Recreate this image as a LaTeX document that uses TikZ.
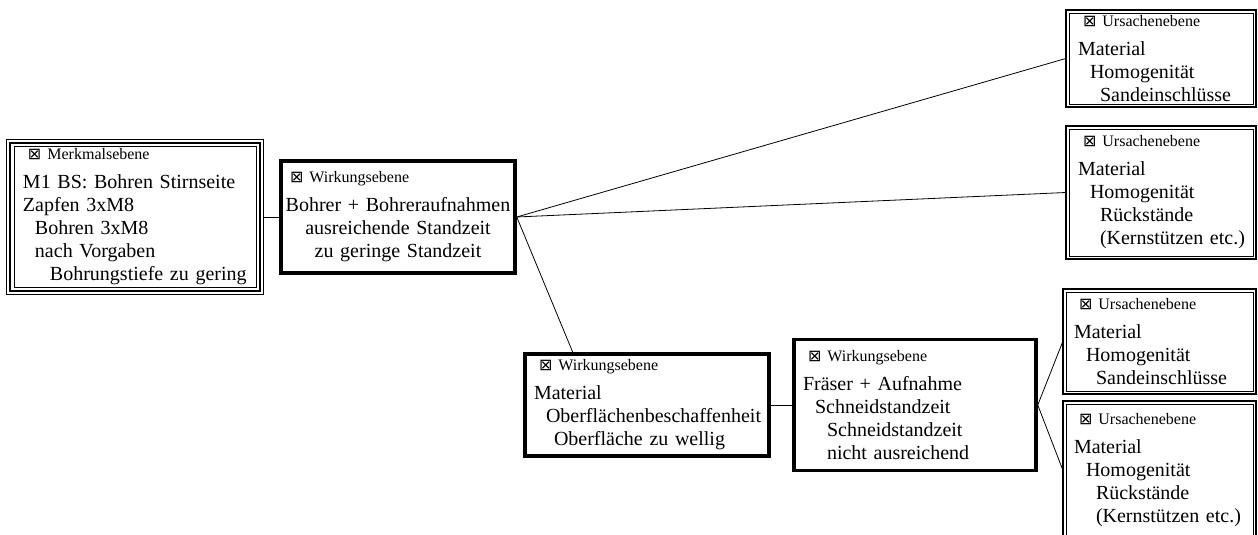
\documentclass[tikz,border=0pt]{standalone}
\usepackage{fontspec}
\setmainfont{Liberation Serif}
\newfontfamily\symfont{DejaVu Sans}
\usetikzlibrary{calc}

\newcommand{\ebene}[2][5]{\hspace*{#1pt}{\symfont\fontsize{16}{16}\selectfont ⊠}\hspace{6pt}{\fontsize{16}{16}\selectfont #2}}
\newcommand{\ein}[1]{\hspace*{#1pt}}

\begin{document}
\begin{tikzpicture}[x=1pt,y=-1pt,
    box/.style={rectangle, inner sep=0pt, align=left, font=\fontsize{20}{23}\selectfont,
      execute at begin node={\hyphenpenalty=10000}},
    wirkung/.style={box, draw, line width=3.5pt},
    ursache/.style={box, draw, line width=0.7pt, outer sep=3.2pt},
    merkmal/.style={box, draw, line width=0.7pt, outer sep=7.3pt},
    link/.style={line width=0.8pt}]
  \useasboundingbox (0,0) rectangle (1258,535);

  \node[merkmal, minimum width=242pt, minimum height=141pt, text width=224pt] (merk) at (135,217)
    {\ebene{Merkmalsebene}\\[6pt]
     M1 BS: Bohren Stirnseite\\
     Zapfen 3xM8\\
     \ein{12}Bohren 3xM8\\
     \ein{12}nach Vorgaben\\
     \ein{27}Bohrungstiefe~zu~gering};

  \node[wirkung, align=center, minimum width=234pt, minimum height=112pt, text width=234pt] (w1) at (398,217)
    {\makebox[\linewidth][l]{\ebene[9]{Wirkungsebene}}\\[6pt]
     Bohrer + Bohreraufnahmen\\
     ausreichende Standzeit\\
     zu geringe Standzeit};
  \node[wirkung, minimum width=244pt, minimum height=102pt, text width=226pt] (w2) at (647,405)
    {\ebene{Wirkungsebene}\\[6pt]
     Material\\
     \ein{12}Oberflächenbeschaffenheit\\
     \ein{20}Oberfläche zu wellig};
  \node[wirkung, minimum width=242pt, minimum height=131pt, text width=224pt] (w3) at (915,405)
    {\ebene{Wirkungsebene}\\[6pt]
     Fräser + Aufnahme\\
     \ein{12}Schneidstandzeit\\
     \ein{24}Schneidstandzeit\\
     \ein{24}nicht ausreichend};

  \node[ursache, minimum width=184pt, minimum height=91pt, text width=166pt] (u1) at (1161,58.5)
    {\ebene{Ursachenebene}\\[6pt]
     Material\\
     \ein{12}Homogenität\\
     \ein{22}Sandeinschlüsse};
  \node[ursache, minimum width=184pt, minimum height=127pt, text width=166pt] (u2) at (1161,192.5)
    {\ebene{Ursachenebene}\\[6pt]
     Material\\
     \ein{12}Homogenität\\
     \ein{22}Rückstände\\
     \ein{22}(Kernstützen~etc.)};
  \node[ursache, minimum width=187pt, minimum height=99pt, text width=171pt] (u3) at (1159.5,341.5)
    {\ebene{Ursachenebene}\\[6pt]
     Material\\
     \ein{12}Homogenität\\
     \ein{22}Sandeinschlüsse};
  \node[ursache, minimum width=187pt, minimum height=132pt, text width=171pt] (u4) at (1159.5,470)
    {\ebene{Ursachenebene}\\[6pt]
     Material\\
     \ein{12}Homogenität\\
     \ein{22}Rückstände\\
     \ein{22}(Kernstützen~etc.)};

  % outer frames
  \foreach \n in {u1,u2,u3,u4}
    \draw[line width=1.6pt] (\n.north west) rectangle (\n.south east);
  \draw[line width=0.7pt] (merk.north west) rectangle (merk.south east);
  \draw[line width=2pt] ([shift={(3.6pt,-3.6pt)}]merk.north west) rectangle ([shift={(-3.6pt,3.6pt)}]merk.south east);

  \draw[link] (merk.east) -- (w1.west);
  \foreach \u in {u1,u2}
    \draw[link] (w1.east) -- (\u.west);
  \draw[link] (w1.east) -- ($(w2.north west)!0.2!(w2.north east)$);
  \draw[link] (w2.east) -- (w3.west);
  \foreach \u in {u3,u4}
    \draw[link] (w3.east) -- (\u.west);
\end{tikzpicture}
\end{document}
